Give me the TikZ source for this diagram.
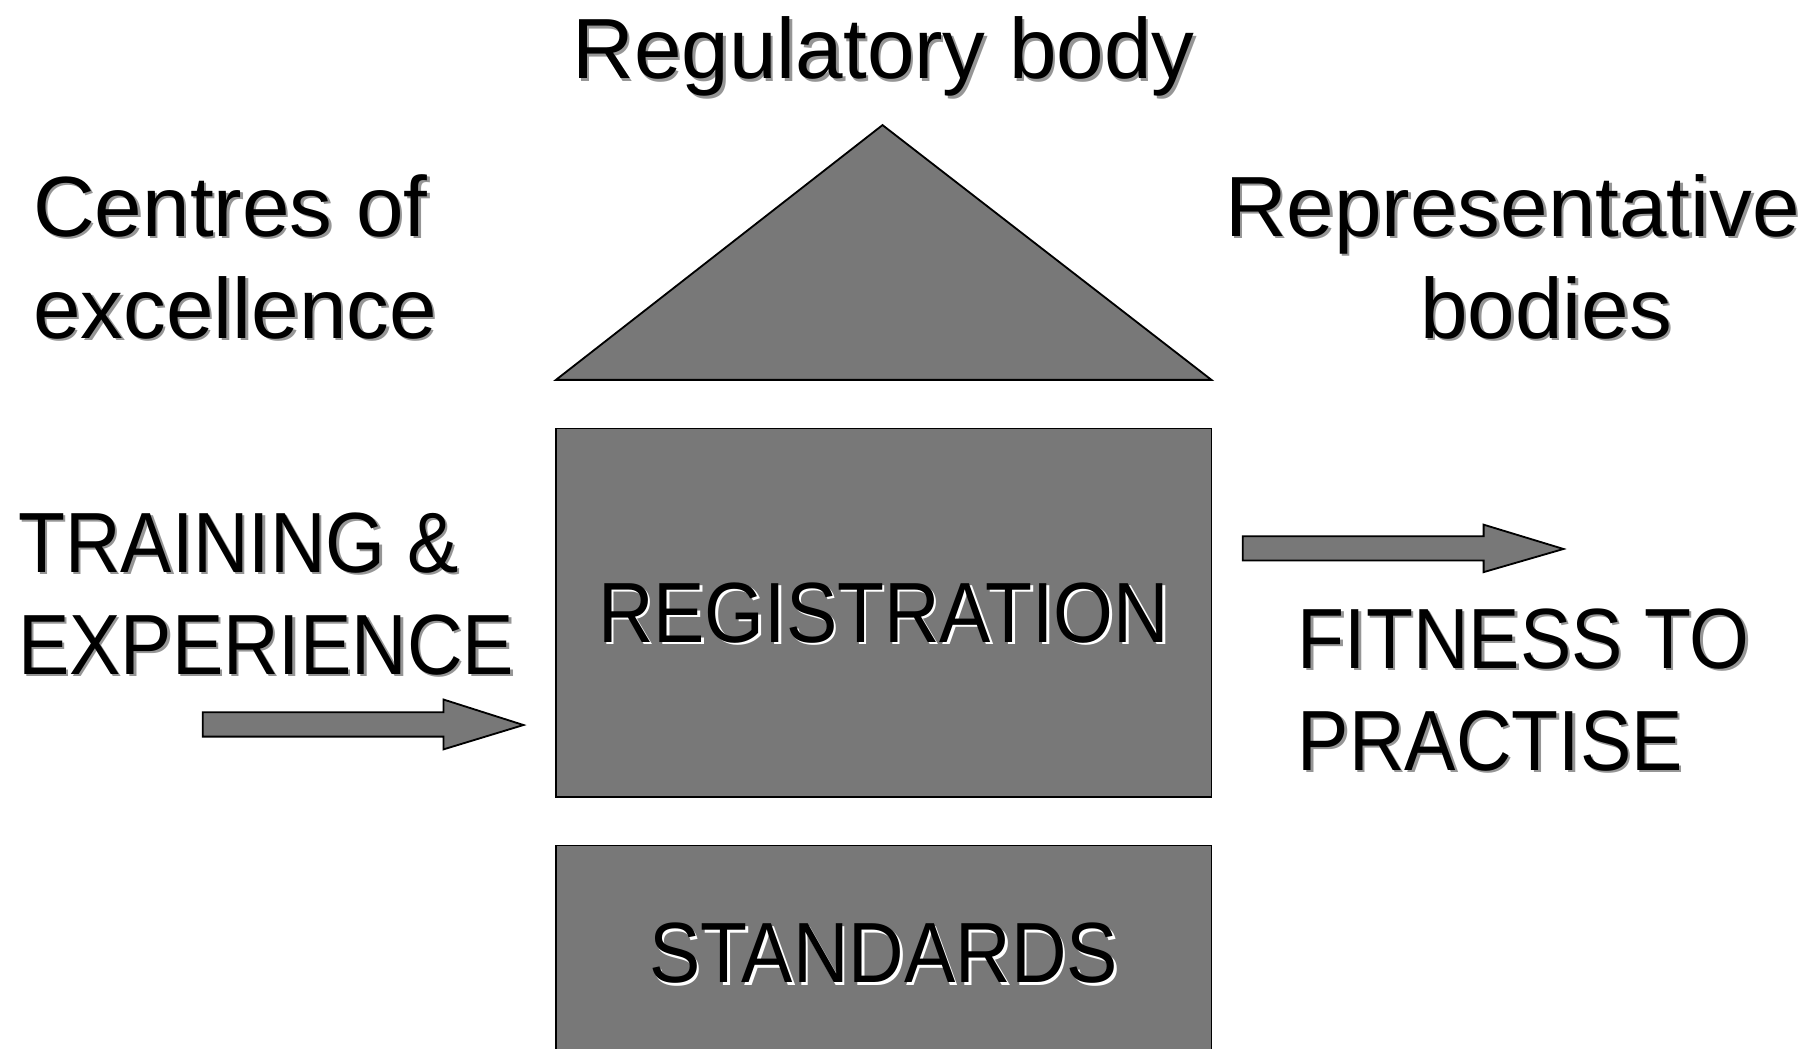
\documentclass[tikz,border=0pt]{standalone}
\usepackage{fontspec}
\setmainfont{Liberation Sans}
\newfontfamily\capsfont[FakeStretch=0.9]{Liberation Sans}
\definecolor{roofgray}{RGB}{120,120,120}
\definecolor{shadowgray}{RGB}{150,150,150}
\newcommand{\shtext}[2]{\makebox[0pt][l]{\hspace{0.6pt}\smash{\raisebox{-0.6pt}{\color{#1}#2}}}#2}
\begin{document}
\begin{tikzpicture}[x=0.1mm,y=-0.1mm,
  slab/.style={draw=black,fill=roofgray,line width=0.45pt},
  lbl/.style={inner sep=0pt,font=\fontsize{21}{25}\selectfont},
  caps/.style={inner sep=0pt,font=\capsfont\fontsize{21}{25}\selectfont}]
  \clip (0,0) rectangle (1568,905);

  \draw[slab] (480,328) -- (762,108) -- (1046,328) -- cycle;
  \node[slab, caps, minimum width=56.6mm, minimum height=31.8mm] (reg) at (763,529) {\shtext{white}{REGISTRATION}};
  \node[slab, caps, minimum width=56.6mm, minimum height=18.6mm] (std) at (763,823) {\shtext{white}{STANDARDS}};

  \draw[slab] (175,615) -- (383,615) -- (383,604) -- (452,626) -- (383,647) -- (383,636) -- (175,636) -- cycle;
  \draw[slab] (1073,463) -- (1281,463) -- (1281,453) -- (1350,474) -- (1281,494) -- (1281,484) -- (1073,484) -- cycle;

  \node[lbl, anchor=base] (regbody) at (763,68) {\shtext{shadowgray}{Regulatory body}};
  \node[lbl, anchor=base west, align=left] (centres) at (28,292)
    {\shtext{shadowgray}{Centres of}\\\shtext{shadowgray}{excellence}};
  \node[lbl, anchor=base, align=center] (repbodies) at (1306,292)
    {\shtext{shadowgray}{Representative}\\\hspace*{5.8mm}\shtext{shadowgray}{bodies}};
  \node[caps, anchor=base west, align=left] (training) at (15,582)
    {\shtext{shadowgray}{TRAINING \&}\\\shtext{shadowgray}{EXPERIENCE}};
  \node[caps, anchor=base west, align=left] (fitness) at (1120,665)
    {\shtext{shadowgray}{FITNESS TO}\\\shtext{shadowgray}{PRACTISE}};
\end{tikzpicture}
\end{document}
